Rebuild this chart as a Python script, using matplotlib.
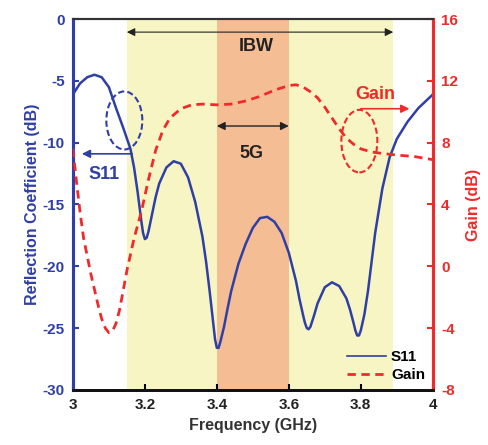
import matplotlib
matplotlib.use("Agg")
import matplotlib.pyplot as plt
from matplotlib.patches import Ellipse

plt.rcParams['font.family'] = ['Liberation Sans', 'DejaVu Sans']
plt.rcParams['font.weight'] = 'bold'
plt.rcParams['axes.unicode_minus'] = False

# ---- data ----
s11_freq = [3.00, 3.02, 3.04, 3.06, 3.08, 3.10, 3.12, 3.14, 3.16, 3.17, 3.18, 3.19,
            3.195, 3.20, 3.205, 3.21, 3.22, 3.23, 3.24, 3.26, 3.28, 3.30, 3.32, 3.34,
            3.36, 3.37, 3.38, 3.39, 3.395, 3.40, 3.405, 3.41, 3.42, 3.43, 3.44, 3.46,
            3.48, 3.50, 3.52, 3.54, 3.56, 3.58, 3.60, 3.62, 3.63, 3.64, 3.645, 3.65,
            3.655, 3.66, 3.67, 3.68, 3.70, 3.72, 3.74, 3.76, 3.77, 3.78, 3.785, 3.79,
            3.795, 3.80, 3.81, 3.82, 3.84, 3.86, 3.88, 3.90, 3.93, 3.96, 4.00]
s11_db = [-6.1, -5.2, -4.7, -4.5, -4.7, -5.5, -7.2, -8.8, -10.5, -12.0, -14.0, -16.3,
          -17.3, -17.8, -17.7, -17.2, -15.8, -14.4, -13.3, -12.0, -11.5, -11.7, -12.8, -14.8,
          -17.6, -19.6, -22.0, -24.6, -25.9, -26.6, -26.6, -26.1, -24.9, -23.4, -22.0, -19.8,
          -18.2, -16.9, -16.1, -16.0, -16.4, -17.3, -18.9, -21.2, -22.7, -24.0, -24.6, -25.0,
          -25.1, -24.9, -24.0, -23.0, -21.7, -21.3, -21.6, -22.6, -23.5, -24.6, -25.2, -25.6,
          -25.6, -25.2, -23.9, -22.0, -17.3, -13.7, -11.2, -9.7, -8.3, -7.2, -6.1]

gain_freq = [3.00, 3.01, 3.02, 3.03, 3.05, 3.07, 3.08, 3.09, 3.10, 3.11, 3.12, 3.13,
             3.15, 3.17, 3.19, 3.21, 3.23, 3.25, 3.27, 3.30, 3.33, 3.36, 3.40, 3.44,
             3.48, 3.52, 3.56, 3.60, 3.62, 3.64, 3.66, 3.68, 3.70, 3.72, 3.74, 3.76,
             3.78, 3.80, 3.83, 3.86, 3.90, 3.95, 4.00]
gain_db = [7.6, 5.5, 3.5, 1.8, -0.5, -2.5, -3.4, -4.0, -4.3, -4.2, -3.7, -2.8,
           -0.3, 1.8, 3.5, 5.6, 7.5, 8.8, 9.6, 10.2, 10.45, 10.5, 10.45, 10.5,
           10.7, 11.0, 11.4, 11.7, 11.75, 11.6, 11.3, 10.9, 10.3, 9.6, 8.9, 8.3,
           7.9, 7.6, 7.4, 7.3, 7.2, 7.1, 6.9]

xticks = [3, 3.2, 3.4, 3.6, 3.8, 4]
xtick_labels = ['3', '3.2', '3.4', '3.6', '3.8', '4']
yticks_left = [0, -5, -10, -15, -20, -25, -30]
yticks_right = [16, 12, 8, 4, 0, -4, -8]

ibw_band = (3.15, 3.89)
band_5g = (3.4, 3.6)

BLUE = '#2f3fa6'
RED = '#f02a2a'
YELLOW = '#f7f5c4'
ORANGE = '#f5bd94'

fig = plt.figure(figsize=(4.89, 4.45), dpi=100)
ax = fig.add_axes([0.149, 0.124, 0.736, 0.833])
ax2 = ax.twinx()

ax.axvspan(*ibw_band, color=YELLOW, lw=0, zorder=0)
ax.axvspan(*band_5g, color=ORANGE, lw=0, zorder=0)

ax.plot(s11_freq, s11_db, color=BLUE, lw=1.8, label='S11', zorder=3, solid_joinstyle='round')
ax2.plot(gain_freq, gain_db, color=RED, lw=2.0, ls=(0, (3, 2)), label='Gain', zorder=3)

ax.set_xlim(3, 4)
ax.set_ylim(-30, 0)
ax2.set_ylim(-8, 16)

ax.set_xticks(xticks)
ax.set_xticklabels(xtick_labels)
ax.set_yticks(yticks_left)
ax2.set_yticks(yticks_right)

ax.tick_params(axis='x', direction='in', length=4, width=1.5, labelsize=11,
               labelcolor='#222222', pad=6)
ax.tick_params(axis='y', direction='in', length=4, width=1.5, colors=BLUE,
               labelsize=11, pad=6)
ax2.tick_params(axis='y', direction='in', length=4, width=1.5, colors=RED,
                labelsize=11, pad=6)

for a in (ax, ax2):
    a.spines['left'].set_color(BLUE)
    a.spines['left'].set_linewidth(2.2)
    a.spines['right'].set_color(RED)
    a.spines['right'].set_linewidth(2.2)
    a.spines['top'].set_color('#333333')
    a.spines['top'].set_linewidth(1.5)
    a.spines['bottom'].set_color('#111111')
    a.spines['bottom'].set_linewidth(2.0)

ax.set_xlabel('Frequency (GHz)', fontsize=11.5, fontweight='bold', color='#333333', labelpad=4)
ax.set_ylabel('Reflection Coefficient (dB)', fontsize=11.5, fontweight='bold', color=BLUE, labelpad=2)
ax2.set_ylabel('Gain (dB)', fontsize=11.5, fontweight='bold', color=RED, labelpad=6)

# IBW arrow
ax.annotate('', xy=(ibw_band[0], -1.05), xytext=(ibw_band[1], -1.05),
            arrowprops=dict(arrowstyle='<|-|>', color='#222222', lw=0.8,
                            mutation_scale=12, shrinkA=0, shrinkB=0), zorder=4)
ax.text(3.51, -2.2, 'IBW', ha='center', va='center', fontsize=13, fontweight='bold', color='#222222')

# 5G arrow
ax.annotate('', xy=(band_5g[0], -8.65), xytext=(band_5g[1], -8.65),
            arrowprops=dict(arrowstyle='<|-|>', color='#222222', lw=1.0,
                            mutation_scale=12, shrinkA=0, shrinkB=0), zorder=4)
ax.text(3.497, -10.9, '5G', ha='center', va='center', fontsize=13, fontweight='bold', color='#222222')

# S11 ellipse and arrow
ax.add_patch(Ellipse((3.143, -8.2), 0.1, 4.7, fill=False, ec=BLUE, lw=1.5,
                     ls=(0, (3, 1.5)), zorder=4))
ax.annotate('', xy=(3.025, -10.9), xytext=(3.165, -10.9),
            arrowprops=dict(arrowstyle='-|>', color=BLUE, lw=1.2,
                            mutation_scale=12, shrinkA=0, shrinkB=0), zorder=4)
ax.text(3.087, -12.6, 'S11', ha='center', va='center', fontsize=13, fontweight='bold', color=BLUE)

# Gain ellipse and arrow
ax2.add_patch(Ellipse((3.796, 8.1), 0.1, 4.05, fill=False, ec=RED, lw=1.5,
                      ls=(0, (3, 1.5)), zorder=4))
ax2.annotate('', xy=(3.935, 10.2), xytext=(3.80, 10.2),
             arrowprops=dict(arrowstyle='-|>', color=RED, lw=1.2,
                             mutation_scale=12, shrinkA=0, shrinkB=0), zorder=4)
ax2.text(3.84, 11.1, 'Gain', ha='center', va='center', fontsize=13, fontweight='bold', color=RED)

# legend
h1, l1 = ax.get_legend_handles_labels()
h2, l2 = ax2.get_legend_handles_labels()
leg = ax2.legend(h1 + h2, l1 + l2, loc='lower right', frameon=False,
                 handlelength=2.6, handletextpad=0.3, borderaxespad=0.1,
                 labelspacing=0.25, prop={'weight': 'bold', 'size': 11})
leg.get_lines()[0].set_linewidth(1.2)

fig.savefig('out.png', dpi=100)
